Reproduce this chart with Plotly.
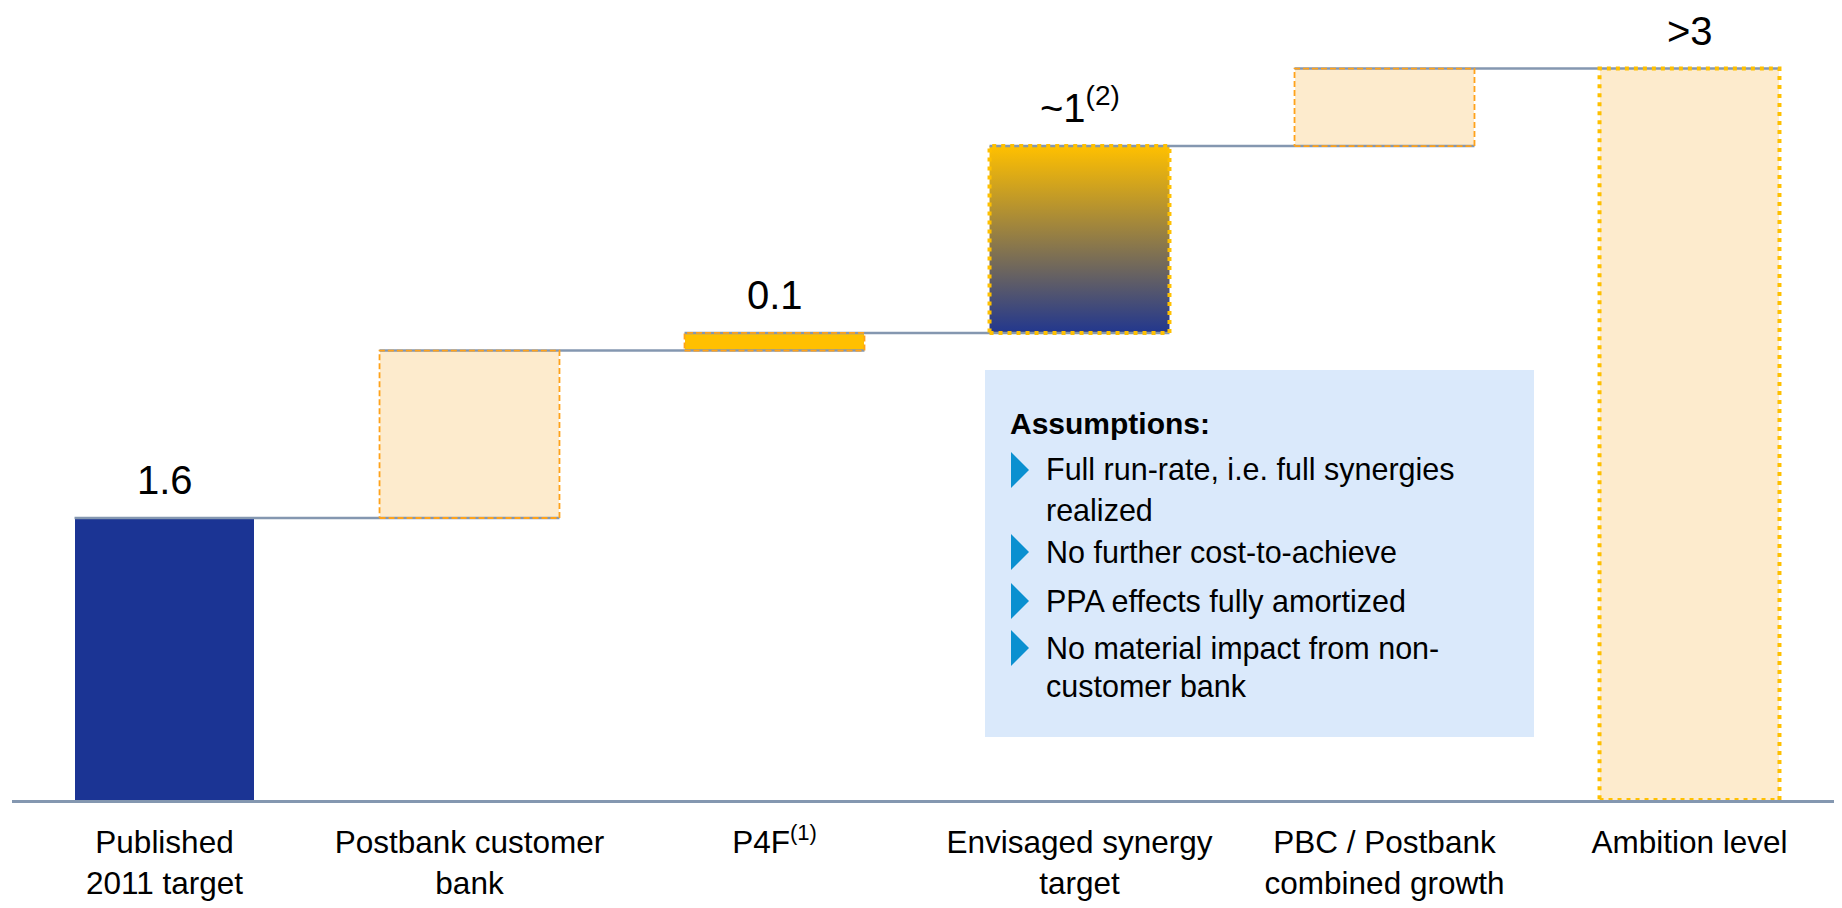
import plotly.graph_objects as go

# data
categories = ["Published<br>2011 target", "Postbank customer<br>bank", "P4F<sup>(1)</sup>",
              "Envisaged synergy<br>target", "PBC / Postbank<br>combined growth", "Ambition level"]
start_value = 1.6
step_values = [0.95, 0.1, 1.06, 0.44]
value_labels = ["1.6", "", "0.1", "~1<sup>(2)</sup>", "", ">3"]

FONT = "Liberation Sans, Arial, sans-serif"
W = 0.59  # bar width in category units
AXIS_GREY = "#8497B0"

# waterfall bases / heights
bases, heights = [0], [start_value]
running = start_value
for v in step_values:
    bases.append(running)
    heights.append(v)
    running += v
bases.append(0)
heights.append(running)
tops = [b + h for b, h in zip(bases, heights)]
xs = list(range(len(categories)))

fig = go.Figure()

# plain fills
fill_colors = ["#1B3494", "#FDEBCD", "#FFC000", "rgba(0,0,0,0)", "#FDEBCD", "#FDEBCD"]
fig.add_bar(x=xs, y=heights, base=bases, width=W, marker=dict(color=fill_colors, line=dict(width=0)),
            hoverinfo="skip", showlegend=False)

# gradient fill of the synergy bar
i = 3
l, r, b, t = xs[i] - W / 2, xs[i] + W / 2, bases[i], tops[i]
fig.add_scatter(x=[l, r, r, l, l], y=[b, b, t, t, b], mode="none", fill="toself",
                fillgradient=dict(type="vertical", colorscale=[[0, "#22378E"], [1, "#FFC000"]],
                                  start=b, stop=t),
                hoverinfo="skip", showlegend=False)

# connectors: from left of bar i to right of bar i+1
cx, cy = [], []
for i in range(len(xs) - 1):
    cx += [xs[i] - W / 2, xs[i + 1] + W / 2, None]
    cy += [tops[i], tops[i], None]
fig.add_scatter(x=cx, y=cy, mode="lines", line=dict(color=AXIS_GREY, width=2.5),
                hoverinfo="skip", showlegend=False)

# dashed / dotted outlines
outline = {
    1: dict(color="#FFA21A", width=1.8, dash="6px,3px"),
    2: dict(color="#FFA21A", width=1.8, dash="6px,3px"),
    3: dict(color="#FFC000", width=4, dash="4px,5px"),
    4: dict(color="#FFA21A", width=1.8, dash="6px,3px"),
    5: dict(color="#FFC000", width=4, dash="4px,5px"),
}
for i, ln in outline.items():
    l, r, b, t = xs[i] - W / 2, xs[i] + W / 2, bases[i], tops[i]
    fig.add_scatter(x=[l, r, r, l, l], y=[b, b, t, t, b], mode="lines", line=ln,
                    hoverinfo="skip", showlegend=False)

# value labels
for i, txt in enumerate(value_labels):
    if txt:
        fig.add_annotation(x=xs[i], y=tops[i], text=txt, showarrow=False, yanchor="bottom",
                           yshift=14, font=dict(family=FONT, size=40, color="black"))

# page pixel -> paper helpers (plot area on the page: x 12..1842, y 8..800)
def px(x):
    return (x - 12) / 1830


def py(y):
    return (800 - y) / 792


fig.add_shape(type="rect", xref="paper", yref="paper", x0=px(985), x1=px(1534), y0=py(370), y1=py(737),
              fillcolor="#DAE9FB", line=dict(width=0), layer="below")
fig.add_annotation(xref="paper", yref="paper", x=px(1008), y=py(423), text="<b>Assumptions:</b>",
                   showarrow=False, xanchor="left", yanchor="middle",
                   font=dict(family=FONT, size=30, color="black"))
lines = [(470, "Full run-rate, i.e. full synergies"), (510, "realized"), (552, "No further cost-to-achieve"),
         (601, "PPA effects fully amortized"), (648, "No material impact from non-"), (686, "customer bank")]
for yy, txt in lines:
    fig.add_annotation(xref="paper", yref="paper", x=px(1044), y=py(yy), text=txt, showarrow=False,
                       xanchor="left", yanchor="middle", font=dict(family=FONT, size=30.5, color="black"))
for yy in [470, 552, 601, 648]:
    fig.add_shape(type="path", xref="paper", yref="paper",
                  path="M %f %f L %f %f L %f %f Z" % (px(1011), py(yy - 18), px(1029), py(yy), px(1011), py(yy + 18)),
                  fillcolor="#0A90D0", line=dict(width=0))

fig.update_xaxes(range=[-0.5, 5.5], tickvals=xs, ticktext=categories, showgrid=False, zeroline=False,
                 showline=True, linecolor=AXIS_GREY, linewidth=3, ticks="outside", ticklen=12,
                 tickcolor="rgba(0,0,0,0)", tickfont=dict(family=FONT, size=31.5, color="black"))
fig.update_yaxes(range=[0, 792 / 176.25], visible=False, showgrid=False, zeroline=False)
fig.update_layout(width=1842, height=908, margin=dict(l=4, r=8, t=0, b=116),
                  plot_bgcolor="white", paper_bgcolor="white", bargap=0, showlegend=False,
                  font=dict(family=FONT))

fig.write_html("out.html")
